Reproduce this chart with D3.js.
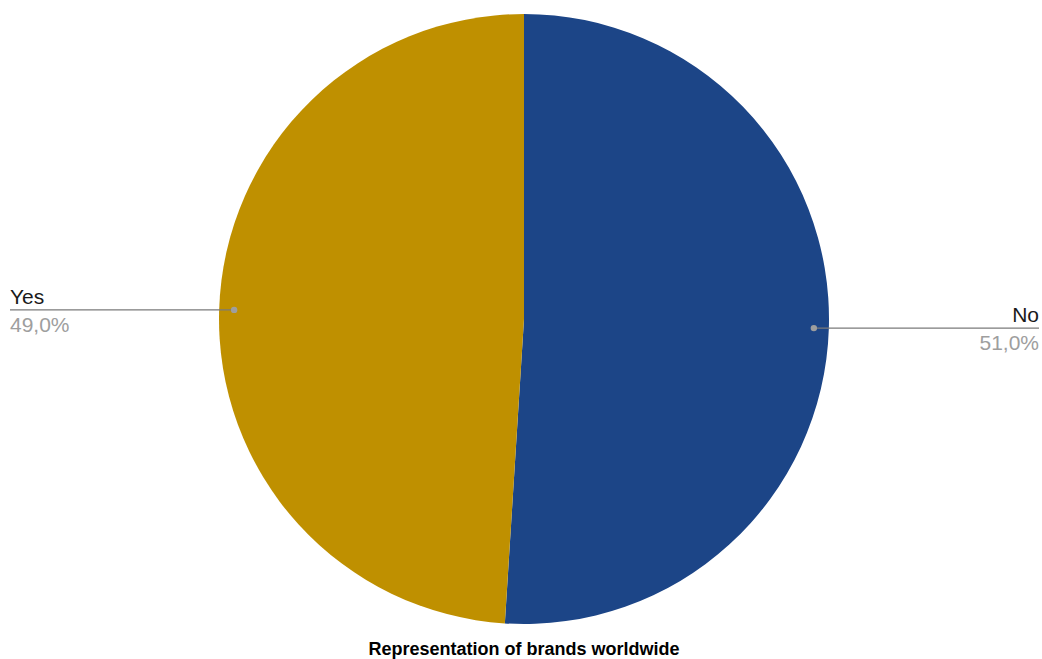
<!DOCTYPE html>
<html>
<head>
<meta charset="utf-8">
<script src="https://cdn.jsdelivr.net/npm/d3@7"></script>
<style>
  html, body { margin: 0; padding: 0; background: #fff; }
  svg { display: block; font-family: Arial, "Liberation Sans", sans-serif; }
</style>
</head>
<body>
<svg id="chart" width="1042" height="659"></svg>
<script>
const categories = ["No", "Yes"];
const values = [51, 49];
const colors = ["#1C4587", "#BF9000"];
const labels = ["51,0%", "49,0%"];
const title = "Representation of brands worldwide";

const W = 1042, H = 659;
const cx = 524, cy = 319, R = 305;
const svg = d3.select("#chart");

const pie = d3.pie().sort(null).value(d => d.value);
const data = categories.map((c, i) => ({ name: c, value: values[i], color: colors[i], label: labels[i] }));
const arcs = pie(data);
const arc = d3.arc().innerRadius(0).outerRadius(R);

const g = svg.append("g").attr("transform", `translate(${cx},${cy})`);
g.selectAll("path").data(arcs).join("path")
  .attr("d", arc)
  .attr("fill", d => d.data.color)
  .attr("stroke", "none");

// leader lines and labels
const dotR = 290;
arcs.forEach(a => {
  const mid = (a.startAngle + a.endAngle) / 2;
  const x = Math.sin(mid) * dotR;
  const y = -Math.cos(mid) * dotR;
  const px = cx + x, py = cy + y;
  const right = x > 0;
  const endX = right ? 1039 : 10;
  svg.append("line")
    .attr("x1", px).attr("y1", py).attr("x2", endX).attr("y2", py)
    .attr("stroke", "#7a7a7a").attr("stroke-width", 1.3);
  svg.append("circle").attr("cx", px).attr("cy", py).attr("r", 3.2).attr("fill", "#9e9e9e");
  svg.append("text")
    .attr("x", endX).attr("y", py - 6)
    .attr("text-anchor", right ? "end" : "start")
    .attr("font-size", 21).attr("fill", "#1a1a1a")
    .text(a.data.name);
  svg.append("text")
    .attr("x", endX).attr("y", py + 22)
    .attr("text-anchor", right ? "end" : "start")
    .attr("font-size", 21).attr("fill", "#9e9e9e")
    .text(a.data.label);
});

svg.append("text")
  .attr("x", cx).attr("y", 655)
  .attr("text-anchor", "middle")
  .attr("font-size", 18).attr("font-weight", "bold").attr("fill", "#000")
  .text(title);
</script>
</body>
</html>
